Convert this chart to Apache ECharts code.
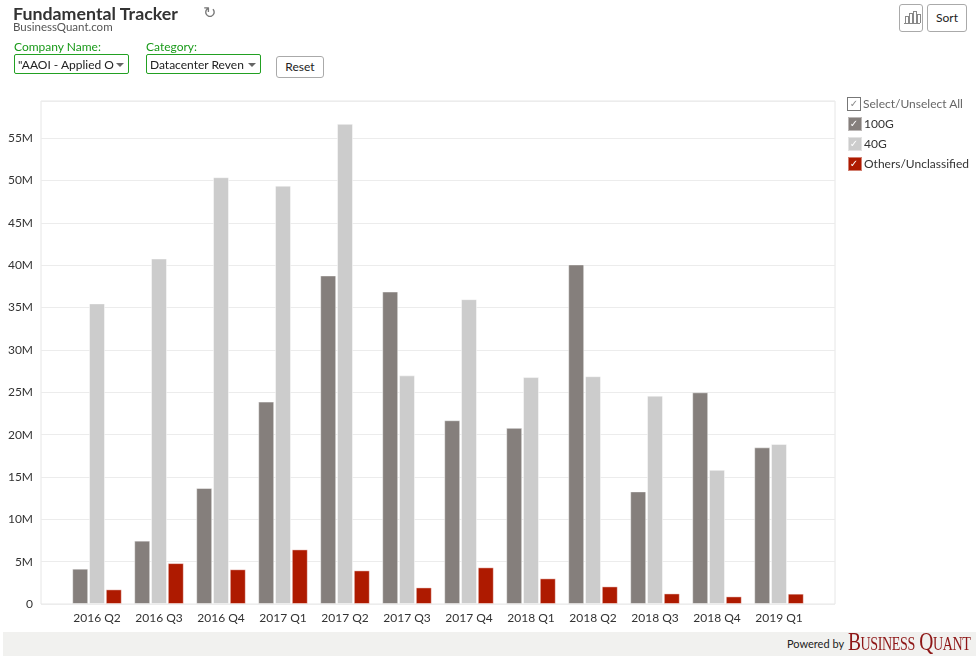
<!DOCTYPE html>
<html>
<head>
<meta charset="utf-8">
<script src="https://cdn.jsdelivr.net/npm/echarts@6/dist/echarts.min.js"></script>
<style>
  body { margin:0; background:#fff; font-family: Lato, "Liberation Sans", sans-serif; color:#333; }
  #main { position:absolute; left:0; top:0; width:976px; height:657px; }
  .ov { position:absolute; z-index:5; }
  .title { left:13px; top:2px; font-size:17.8px; font-weight:bold; color:#333; }
  .sub { left:13px; top:20px; font-size:11.5px; color:#555; }
  .refresh { left:203px; top:2px; font-size:16px; color:#777; }
  .lbl { font-size:12px; color:#1a9a1a; }
  .sel { border:1px solid #22a022; border-radius:2px; height:20px; font-size:12px; color:#222;
         line-height:20px; padding-left:3px; box-sizing:border-box; width:115px; overflow:hidden; white-space:nowrap; }
  .sel .arr { position:absolute; right:4px; top:8px; width:0; height:0; border-left:4px solid transparent;
              border-right:4px solid transparent; border-top:4px solid #666; }
  .btn { border:1px solid #aaa; border-radius:3px; background:#fff; font-size:12px; color:#222; text-align:center; box-sizing:border-box; }
  .ib { position:absolute; bottom:8px; width:2px; border:1px solid #888; border-bottom:none; }
  .chk { position:absolute; z-index:6; width:14px; height:14px; font-family:"DejaVu Sans",sans-serif; font-size:10px; line-height:14px; text-align:center; color:#fff; pointer-events:none; }
  .footer { left:3px; top:632px; width:973px; height:24px; background:#f1f1ef; }
</style>
</head>
<body>
<div id="main"></div>

<div class="ov title">Fundamental Tracker</div>
<div class="ov sub">BusinessQuant.com</div>
<div class="ov refresh">&#x21bb;</div>

<div class="ov lbl" style="left:14px;top:39px;">Company Name:</div>
<div class="ov sel" style="left:14px;top:54px;">"AAOI - Applied O<span class="arr"></span></div>
<div class="ov lbl" style="left:146px;top:39px;">Category:</div>
<div class="ov sel" style="left:146px;top:54px;">Datacenter Reven<span class="arr"></span></div>
<div class="ov btn" style="left:276px;top:56px;width:48px;height:22px;line-height:20px;">Reset</div>

<div class="ov btn" style="left:899px;top:4px;width:24px;height:28px;">
  <div class="ib" style="left:5px;height:6px;"></div>
  <div class="ib" style="left:9px;height:9px;"></div>
  <div class="ib" style="left:13px;height:11px;"></div>
  <div class="ib" style="left:17px;height:8px;"></div>
  <div style="position:absolute;left:4px;bottom:7px;width:16px;height:1px;background:#888;"></div>
</div>
<div class="ov btn" style="left:927px;top:4px;width:40px;height:28px;line-height:26px;">Sort</div>

<div class="ov" style="left:847px;top:97px;width:14px;height:14px;border:1px solid #777;box-sizing:border-box;"></div>
<div class="chk" style="left:847px;top:97px;color:#888;">&#x2713;</div>
<div class="ov" style="left:863px;top:96px;font-size:12px;color:#666;">Select/Unselect All</div>

<div class="ov footer"></div>
<div class="ov" style="left:787px;top:637px;font-size:11px;color:#222;">Powered by</div>
<div class="ov" style="left:848px;top:628px;font-family:'Liberation Serif','DejaVu Serif',serif;font-size:25px;color:#8e1616;font-variant:small-caps;transform:scaleX(0.78);transform-origin:left top;letter-spacing:-0.5px;white-space:nowrap;">Business Quant</div>

<script>
var categories = ['2016 Q2','2016 Q3','2016 Q4','2017 Q1','2017 Q2','2017 Q3','2017 Q4','2018 Q1','2018 Q2','2018 Q3','2018 Q4','2019 Q1'];
var seriesNames = ['100G','40G','Others/Unclassified'];
var colors = ['#857f7c','#cccccc','#ae1a00'];
var v100G   = [4.17, 7.48, 13.7, 23.9, 38.8, 36.9, 21.7, 20.8, 40.1, 13.3, 25.0, 18.5];
var v40G    = [35.5, 40.8, 50.4, 49.4, 56.7, 27.0, 36.0, 26.8, 26.9, 24.6, 15.85, 18.9];
var vOthers = [1.73, 4.83, 4.1, 6.45, 3.97, 1.96, 4.33, 3.03, 2.08, 1.25, 0.9, 1.22];
var yMax = 59.4e6, yStep = 5e6;

function toM(arr) { return arr.map(function (v) { return v * 1e6; }); }
var allData = [toM(v100G), toM(v40G), toM(vOthers)];

var myChart = echarts.init(document.getElementById('main'));
myChart.setOption({
    animation: false,
    textStyle: { fontFamily: 'Lato, "Liberation Sans", sans-serif' },
    grid: [
        { left: 41, right: 141, top: 101, bottom: 53, show: true, borderColor: '#e6e6e6', borderWidth: 1 },
        { left: 66, right: 166, top: 101, bottom: 53 }
    ],
    legend: {
        data: seriesNames,
        orient: 'vertical',
        left: 847,
        top: 116,
        padding: 0,
        icon: 'rect',
        itemWidth: 14,
        itemHeight: 14,
        itemGap: 4,
        textStyle: { fontSize: 12, color: '#333', padding: [0, 0, 0, -3] }
    },
    xAxis: [
        { gridIndex: 0, type: 'value', show: false },
        {
            gridIndex: 1, type: 'category', data: categories,
            axisLine: { show: false }, axisTick: { show: false },
            axisLabel: { color: '#333', fontSize: 12, margin: 8 }
        }
    ],
    yAxis: [
        {
            gridIndex: 0, type: 'value', min: 0, max: yMax, interval: yStep,
            axisLine: { show: false }, axisTick: { show: false },
            axisLabel: {
                color: '#333', fontSize: 12, margin: 8, showMaxLabel: false,
                formatter: function (v) { return v === 0 ? '0' : (v / 1e6) + 'M'; }
            },
            splitLine: { lineStyle: { color: '#ececec' } }
        },
        { gridIndex: 1, type: 'value', min: 0, max: yMax, show: false, splitLine: { show: false } }
    ],
    series: seriesNames.map(function (name, i) {
        return {
            name: name,
            type: 'bar',
            xAxisIndex: 1,
            yAxisIndex: 1,
            barWidth: 16,
            barGap: '5%',
            data: allData[i],
            itemStyle: { color: colors[i], borderColor: 'rgba(255,255,255,0.45)', borderWidth: 1 }
        };
    })
});
</script>

<div class="chk" style="left:847px;top:117px;">&#x2713;</div>
<div class="chk" style="left:847px;top:137px;">&#x2713;</div>
<div class="chk" style="left:847px;top:157px;">&#x2713;</div>
</body>
</html>
